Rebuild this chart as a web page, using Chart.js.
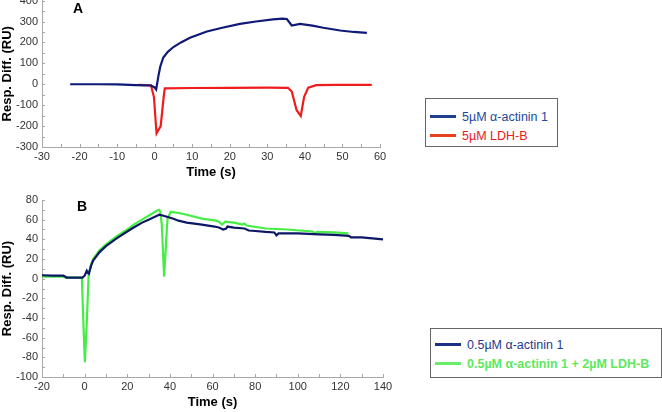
<!DOCTYPE html>
<html>
<head>
<meta charset="utf-8">
<script src="https://cdn.jsdelivr.net/npm/chart.js@4.4.1/dist/chart.umd.min.js"></script>
<style>
body{margin:0;background:#fff;width:662px;height:412px;overflow:hidden;position:relative;font-family:Arial,"Liberation Sans",sans-serif}
#cajaA{position:absolute;left:0;top:-10px;width:662px;height:192px}
#cajaB{position:absolute;left:0;top:180px;width:662px;height:232px}
.panel{position:absolute;font-weight:bold;font-size:14px;color:#000;line-height:14px}
.leyenda{position:absolute;box-sizing:border-box;border:1px solid #666;background:#fff;font-size:12.5px;padding-left:4px}
.fila{display:flex;align-items:center;height:19px;white-space:nowrap}
.raya{display:inline-block;width:26px;height:3px;margin-right:6px}
</style>
</head>
<body>
<div id="cajaA"><canvas id="graficaA"></canvas></div>
<div id="cajaB"><canvas id="graficaB"></canvas></div>
<div class="panel" style="left:73px;top:1px">A</div>
<div class="panel" style="left:77px;top:199px">B</div>
<div class="leyenda" id="leyendaA" style="left:425px;top:98px;width:133px;height:49px;padding-top:8px"></div>
<div class="leyenda" id="leyendaB" style="left:430px;top:328px;width:232px;height:50px;padding-top:6px"></div>
<script>
// ---- Panel A: 5uM ----
const tiempoActininaA = [-22.5,-15,-10,-5,-1,0,0.4,1,1.5,2.3,3.5,5,7,9.4,13.9,18,22.7,27,31.5,34,35.2,36.5,38.7,42,44.9,49.4,53,56.5];
const respActininaA   = [0,0,-1,-4,-6,-15,-25,40,85,128,155,178,200,222,252,270,289,300,310,314,312,281,289,280,270,257,250,246];
const tiempoLdhA = [-4.4,-1,-0.2,0.5,1.6,2.4,2.7,10,20,30,35.5,36.5,37.8,38.9,39.8,40.9,43,48,57.8];
const respLdhA   = [-3,-5,-60,-235,-200,-60,-20,-18,-17,-16,-17,-35,-124,-152,-60,-16,-4,-3,-3];
const etiquetasA = ["5µM α-actinin 1", "5µM LDH-B"];
const ejeXA = [-30, 60, 10];
const ejeYA = [-300, 400, 100];

// ---- Panel B: 0.5uM ----
const tiempoActininaB = [-20,-15,-10,-9,-8.5,-1,0,1,1.5,2,3,4,7,10,15,20,23,27,30,33,35,37,38.6,41.7,44,47.9,55,61,63,65,66.4,67,70,75,77,80,85,89,90,91,100,110,117,124,125,130,135,140];
const respActininaB   = [3.5,3,3,2,1,1,3,8,6,5,13,18.5,27,33,41,48,52,57,60,63,65,64,63,61,59,57,55,53,52,50,51,53,52,51,49,48.5,47.5,47,44,46,46,45,44.5,43.5,42,42,41,40];
const tiempoMezclaB = [-20,-10,-9,-1.3,-0.5,0.1,1,1.9,3,4,7,10,15,20,23,27,30,33.8,35,35.5,36.2,37.3,38.3,38.9,40.4,44.8,47.9,55,61.7,63,64.5,66,70,74,75,76,85,95,101,107,108,109,116.8,123.8];
const respMezclaB   = [2,2,1,1,-50,-85,-45,5,14,20,29,35,43,50,55,60,64,69,70,68,55,2,40,61,68,66.5,65,61,59,58,55,58,57,55,56,54,51,50,49,48,46,47.5,47,46];
const etiquetasB = ["0.5µM α-actinin 1", "0.5µM α-actinin 1 + 2µM LDH-B"];
const ejeXB = [-20, 140, 20];
const ejeYB = [-100, 80, 20];

function puntos(xs, ys){
    return xs.map((x, i) => ({x: x, y: ys[i]}));
}

// ticks cortos hacia dentro del area, con menores a mitad de paso
const ticksDentro = {
    id: 'ticksDentro',
    afterDraw: (chart) => {
        const ctx = chart.ctx;
        const sx = chart.scales.x, sy = chart.scales.y;
        ctx.save();
        ctx.strokeStyle = '#a8a8a8';
        ctx.lineWidth = 1;
        ctx.beginPath();
        const px = sx.options.ticks.stepSize / 2;
        for (let v = sx.min; v <= sx.max + 1e-9; v += px) {
            const xx = Math.round(sx.getPixelForValue(v)) + 0.5;
            ctx.moveTo(xx, sy.bottom); ctx.lineTo(xx, sy.bottom - 3);
        }
        const py = sy.options.ticks.stepSize / 2;
        for (let v = sy.min; v <= sy.max + 1e-9; v += py) {
            const yy = Math.round(sy.getPixelForValue(v)) + 0.5;
            ctx.moveTo(sx.left, yy); ctx.lineTo(sx.left + 3, yy);
        }
        ctx.stroke();
        ctx.restore();
    }
};

function Grafico(id, datasets, ejeX, ejeY, padding){
    const ctx = document.getElementById(id);
    return new Chart(ctx, {
        type: 'line',
        data: { datasets: datasets },
        options: {
            responsive: true,
            maintainAspectRatio: false,
            animation: false,
            layout: { padding: padding },
            plugins: { legend: { display: false }, tooltip: { enabled: false } },
            elements: { point: { radius: 0 }, line: { tension: 0, borderWidth: 2.2 } },
            scales: {
                x: {
                    type: 'linear', min: ejeX[0], max: ejeX[1],
                    ticks: { stepSize: ejeX[2], color: '#333', font: { family: 'Arial', size: 11 }, padding: 3, maxRotation: 0 },
                    grid: { display: false, drawTicks: false },
                    border: { color: '#a8a8a8' },
                    title: { display: true, text: 'Time (s)', color: '#000', font: { family: 'Arial', size: 13, weight: 'bold' }, padding: { top: 4, bottom: 2 } },
                    afterFit: (s) => { s.height = 35; }
                },
                y: {
                    min: ejeY[0], max: ejeY[1],
                    ticks: { stepSize: ejeY[2], color: '#333', font: { family: 'Arial', size: 11 }, padding: 4 },
                    grid: { display: false, drawTicks: false },
                    border: { color: '#a8a8a8' },
                    title: { display: true, text: 'Resp. Diff. (RU)', color: '#000', font: { family: 'Arial', size: 13, weight: 'bold' }, padding: 0 },
                    afterFit: (s) => { s.width = 42; }
                }
            }
        },
        plugins: [ticksDentro]
    });
}

function Leyenda(id, chart, colores){
    const caja = document.getElementById(id);
    chart.data.datasets.forEach((ds, i) => {
        const fila = document.createElement('div');
        fila.className = 'fila';
        const raya = document.createElement('span');
        raya.className = 'raya';
        raya.style.background = colores[i].raya;
        const txt = document.createElement('span');
        txt.textContent = ds.label;
        txt.style.color = colores[i].texto;
        if (colores[i].negrita) txt.style.fontWeight = 'bold';
        fila.appendChild(raya);
        fila.appendChild(txt);
        caja.appendChild(fila);
    });
}

document.addEventListener("DOMContentLoaded", function(event) {
    const graficoA = Grafico('graficaA', [
        { label: etiquetasA[0], data: puntos(tiempoActininaA, respActininaA), borderColor: '#0f1a78' },
        { label: etiquetasA[1], data: puntos(tiempoLdhA, respLdhA), borderColor: '#ee1c1c' }
    ], ejeXA, ejeYA, { top: 6, right: 282, bottom: 0, left: 0 });

    const graficoB = Grafico('graficaB', [
        { label: etiquetasB[0], data: puntos(tiempoActininaB, respActininaB), borderColor: '#0e1766', order: 1 },
        { label: etiquetasB[1], data: puntos(tiempoMezclaB, respMezclaB), borderColor: '#44ee44', order: 2 }
    ], ejeXB, ejeYB, { top: 20, right: 279, bottom: 0, left: 0 });

    Leyenda('leyendaA', graficoA, [
        { raya: '#1f3f8f', texto: '#2248a0' },
        { raya: '#e8401c', texto: '#e8201a' }
    ]);
    Leyenda('leyendaB', graficoB, [
        { raya: '#1a2f85', texto: '#1f3a8a' },
        { raya: '#66ee66', texto: '#5ee85e', negrita: true }
    ]);
});
</script>
</body>
</html>
